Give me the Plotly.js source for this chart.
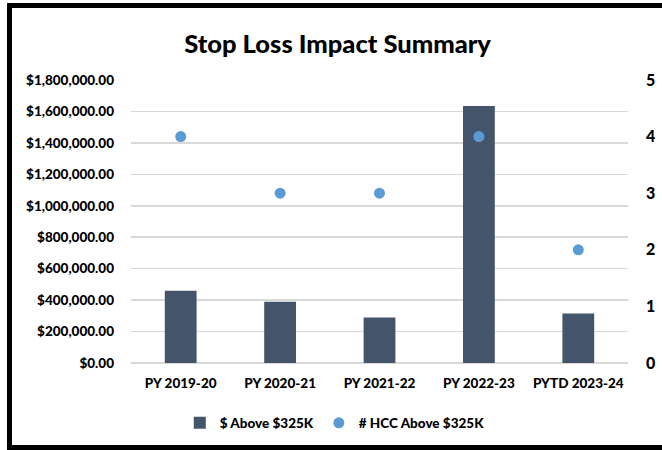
<!DOCTYPE html>
<html>
<head>
<meta charset="utf-8">
<script src="https://cdn.plot.ly/plotly-3.0.1.min.js"></script>
<style>
  html, body { margin: 0; padding: 0; background: #fff; overflow: hidden; }
  #chart { width: 662px; height: 450px; position: absolute; left: 0; top: 0; }
  #frame { position: absolute; left: 7px; top: 3px; width: 720px; height: 447px;
           border: 5px solid #000; box-sizing: border-box; pointer-events: none; }
</style>
</head>
<body>
<div id="chart"></div>
<div id="frame"></div>
<script>
const categories = ["PY 2019-20", "PY 2020-21", "PY 2021-22", "PY 2022-23", "PYTD 2023-24"];
const dollarsAbove = [460000, 390000, 290000, 1635000, 315000];
const hccCount = [4, 3, 3, 4, 2];
const seriesNames = ["$ Above $325K", "# HCC Above $325K"];
const chartTitle = "Stop Loss Impact Summary";

const FONT = "Lato, 'Open Sans', 'DejaVu Sans', sans-serif";
const W = 900;

const traces = [
  {
    type: "bar",
    x: categories,
    y: dollarsAbove,
    name: seriesNames[0],
    marker: { color: "#44546A" },
    yaxis: "y"
  },
  {
    type: "scatter",
    mode: "markers",
    x: categories,
    y: hccCount,
    name: seriesNames[1],
    marker: { color: "#5B9BD5", size: 11 },
    yaxis: "y2"
  }
];

const layout = {
  width: 662,
  height: 450,
  margin: { l: 131, r: 34, t: 80, b: 87 },
  paper_bgcolor: "#ffffff",
  plot_bgcolor: "#ffffff",
  font: { family: FONT, size: 13.5, color: "#000", weight: W },
  title: {
    text: chartTitle,
    font: { family: FONT, size: 25.5, color: "#000", weight: W },
    x: 0.51, xanchor: "center",
    y: 1 - 44 / 450, yanchor: "middle"
  },
  bargap: 0.68,
  showlegend: true,
  legend: {
    orientation: "h",
    x: 0.41, xanchor: "center",
    y: -0.212, yanchor: "middle",
    font: { family: FONT, size: 13.5, color: "#000", weight: W },
    itemwidth: 30,
    traceorder: "normal"
  },
  xaxis: {
    type: "category",
    showgrid: false,
    showline: false,
    zeroline: false,
    ticks: "",
    ticklabelstandoff: 10,
    tickfont: { family: FONT, size: 13.5, color: "#000", weight: W }
  },
  yaxis: {
    range: [0, 1800000],
    dtick: 200000,
    tick0: 0,
    tickformat: "$,.2f",
    showgrid: true,
    gridcolor: "#d9d9d9",
    gridwidth: 1.5,
    zeroline: true,
    zerolinecolor: "#d9d9d9",
    zerolinewidth: 1.5,
    showline: false,
    ticks: "",
    ticklabelstandoff: 16,
    tickfont: { family: FONT, size: 13.5, color: "#000", weight: W }
  },
  yaxis2: {
    range: [0, 5],
    dtick: 1,
    tick0: 0,
    overlaying: "y",
    side: "right",
    showgrid: false,
    zeroline: false,
    showline: false,
    ticks: "",
    ticklabelstandoff: 17,
    tickfont: { family: FONT, size: 16, color: "#000", weight: W }
  }
};

Plotly.newPlot("chart", traces, layout, { displayModeBar: false, staticPlot: true });
</script>
</body>
</html>
